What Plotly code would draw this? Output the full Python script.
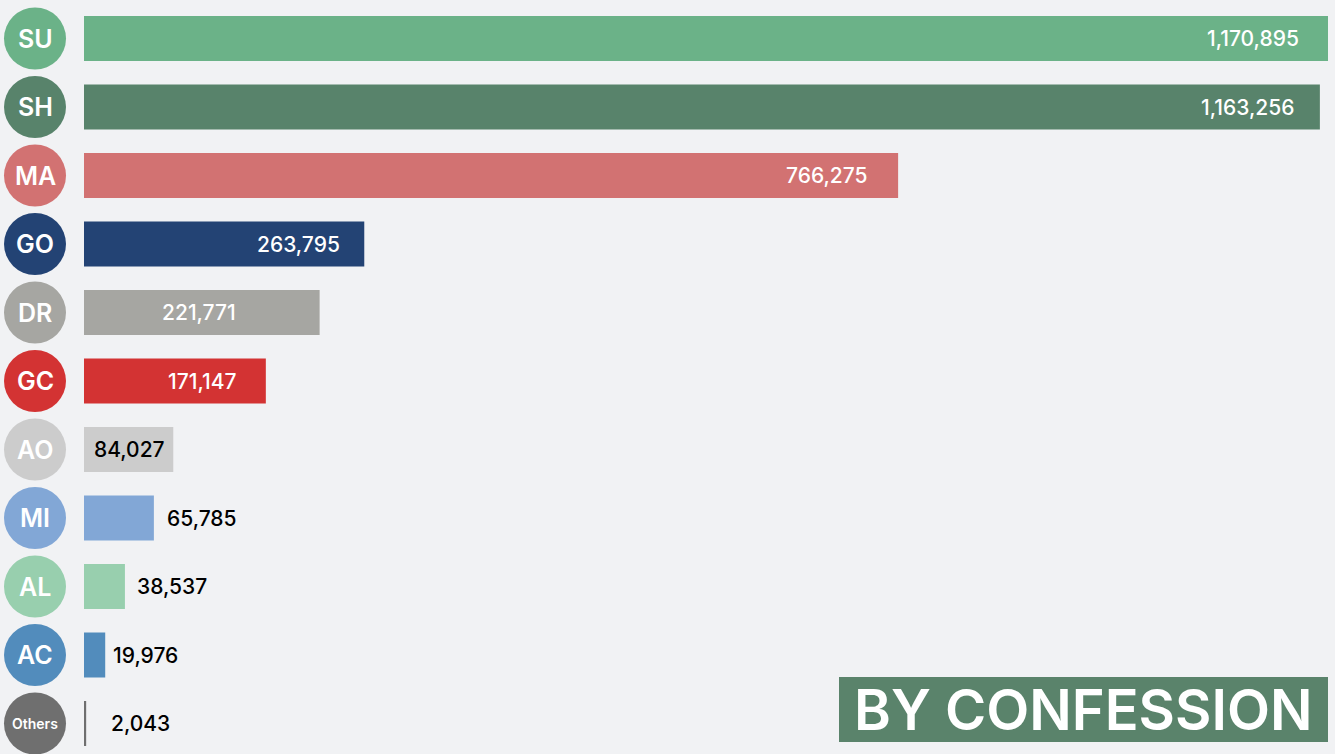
import plotly.graph_objects as go

codes = ["SU", "SH", "MA", "GO", "DR", "GC", "AO", "MI", "AL", "AC", "Others"]
values = [1170895, 1163256, 766275, 263795, 221771, 171147, 84027, 65785, 38537, 19976, 2043]
colors = ["#6bb288", "#58836b", "#d27272", "#234374", "#a6a6a2", "#d33333",
          "#cccccc", "#82a7d6", "#98cfae", "#528cbc", "#6f6f6f"]
title_text = "BY CONFESSION"

# label styling (anchor, pixel shift, color)
label_anchor = ["right"] * 7 + ["left"] * 4
label_shift = [-27, -24, -28, -22, -82, -28, -6, 11, 10, 6, 23]
label_color = ["white"] * 6 + ["black"] * 5

W, H = 1335, 754
ML, MR = 84, 7
PW = W - ML - MR
pitch = 68.5
c0 = 38.5
ymin = -c0 / pitch
ymax = (H - c0) / pitch
FONT = "Inter"

ys = list(range(len(codes)))
fig = go.Figure(go.Bar(
    x=values, y=ys, orientation="h", marker=dict(color=colors, line=dict(width=0)),
    width=45 / pitch, hoverinfo="skip"))

shapes = []
annotations = []
r = 31
cx = 35
for i, (c, v, col) in enumerate(zip(codes, values, colors)):
    shapes.append(dict(type="circle", xref="paper", yref="y",
                       x0=(cx - r - ML) / PW, x1=(cx + r - ML) / PW,
                       y0=i - r / pitch, y1=i + r / pitch,
                       fillcolor=col, line=dict(width=0), layer="above"))
    annotations.append(dict(xref="paper", yref="y", x=(cx - ML) / PW, y=i,
                            text=c, showarrow=False,
                            font=dict(family=FONT, size=14 if c == "Others" else 25,
                                      color="white", weight=600),
                            xanchor="center", yanchor="middle"))
    annotations.append(dict(xref="x", yref="y", x=v, y=i, text=f"{v:,}", showarrow=False,
                            xanchor=label_anchor[i], xshift=label_shift[i],
                            font=dict(family=FONT, size=21, color=label_color[i], weight=500),
                            yanchor="middle"))

# title box
bx0, bx1, by0, by1 = 839, 1328, 677, 742
shapes.append(dict(type="rect", xref="paper", yref="paper",
                   x0=(bx0 - ML) / PW, x1=(bx1 - ML) / PW,
                   y0=1 - by1 / H, y1=1 - by0 / H,
                   fillcolor="#5a836b", line=dict(width=0), layer="above"))
annotations.append(dict(xref="paper", yref="paper", x=((bx0 + bx1) / 2 - ML) / PW,
                        y=1 - (by0 + by1) / 2 / H, text=title_text, showarrow=False,
                        font=dict(family=FONT, size=56, color="white", weight=600),
                        xanchor="center", yanchor="middle"))

fig.update_layout(
    width=W, height=H, margin=dict(l=ML, r=MR, t=0, b=0, pad=0),
    paper_bgcolor="#f1f2f4", plot_bgcolor="#f1f2f4",
    xaxis=dict(range=[0, max(values)], visible=False, fixedrange=True),
    yaxis=dict(range=[ymax, ymin], visible=False, fixedrange=True),
    shapes=shapes, annotations=annotations, showlegend=False,
)
fig.write_html("out.html", config={"displayModeBar": False},
               post_script="document.body.style.margin='0';document.body.style.background='#f1f2f4';")
